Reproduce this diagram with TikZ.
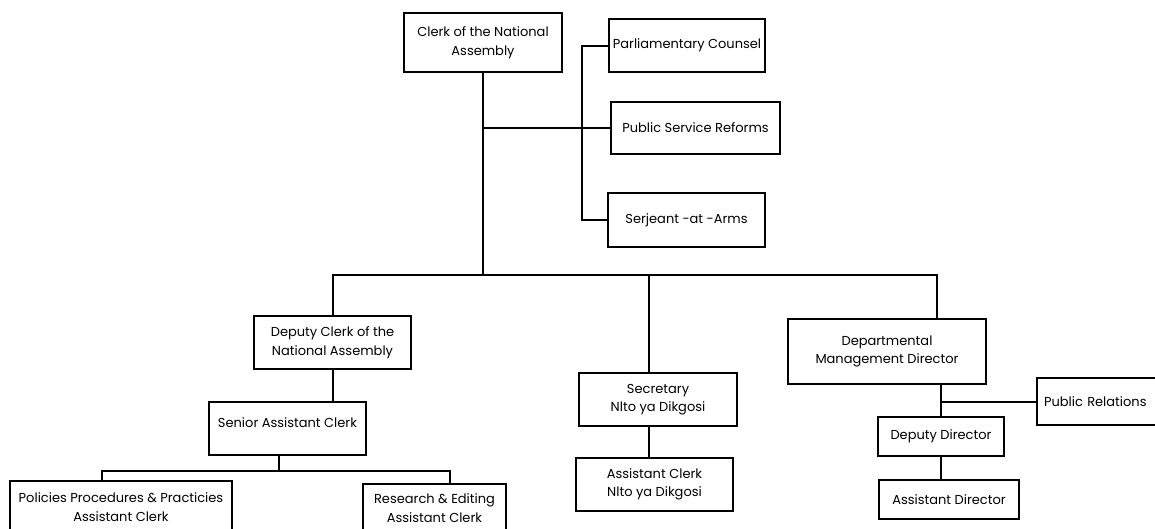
\documentclass[tikz,border=0pt]{standalone}
\usepackage{fontspec}
\setmainfont{Poppins}
\usepackage{tikz}

\tikzset{
  post/.style={draw, line width=2pt, align=center, font=\fontsize{13}{18.5}\selectfont,
               inner sep=3pt},
  link/.style={line width=2pt}
}

\begin{document}
\begin{tikzpicture}[x=1pt, y=-1pt]

  \useasboundingbox (0,0) rectangle (1155,528);
  \clip (0,0) rectangle (1155,528);

  % top of the chart
  \node[post, minimum width=158, minimum height=59] (clerk) at (483,42.5) {Clerk of the National\\Assembly};
  \node[post, minimum width=156, minimum height=53] (parl)  at (687,45.5) {Parliamentary Counsel};
  \node[post, minimum width=169, minimum height=52] (psr)   at (695.5,128) {Public Service Reforms};
  \node[post, minimum width=157, minimum height=54] (serj)  at (686.5,220) {Serjeant -at -Arms};

  % second row
  \node[post, minimum width=157, minimum height=53] (dep) at (332.5,342.5) {Deputy Clerk of the\\National Assembly};
  \node[post, minimum width=158, minimum height=53] (sec) at (658,399.5) {Secretary\\Nlto ya Dikgosi};
  \node[post, minimum width=198, minimum height=65] (dmd) at (887,351.5) {Departmental\\Management Director};

  % lower rows
  \node[post, minimum width=157, minimum height=53, text depth=12pt] (senior) at (287.5,428.5) {Senior Assistant Clerk};
  \node[post, minimum width=222, minimum height=52] (pol) at (121,507) {Policies Procedures \& Practicies\\Assistant Clerk};
  \node[post, minimum width=143, minimum height=48] (res) at (434.5,508) {Research \& Editing\\Assistant Clerk};
  \node[post, minimum width=157, minimum height=53] (acn) at (654.5,484.5) {Assistant Clerk\\Nlto ya Dikgosi};
  \node[post, minimum height=47, text width=140, inner xsep=7pt, anchor=west, align=left] (pr) at (1036,401.5) {Public Relations};
  \node[post, minimum width=126, minimum height=39] (dd) at (941,436.5) {Deputy Director};
  \node[post, minimum width=140, minimum height=39] (ad) at (949,499.5) {Assistant Director};

  % bus under the clerk
  \coordinate (bus)  at (483,275);
  \coordinate (busR) at (937,275);
  \coordinate (sub)  at (279,471);

  \draw[link] (clerk.south) -- (bus);
  \draw[link] (clerk |- psr.west) -- (psr.west);
  \draw[link] (parl.west) -- ++(-26,0) |- (serj.west);
  \draw[link] (dep.north) |- (busR) -- (busR |- dmd.north);
  \draw[link] ([xshift=-9pt]sec.north) -- ([xshift=-9pt]sec.north |- bus);
  \draw[link] ([xshift=-9pt]sec.south) -- ([xshift=-9pt]sec.south |- acn.north);
  \draw[link] (dep.south) -- (dep.south |- senior.north);
  \draw[link] (sub) -- (sub |- senior.south);
  \draw[link] ([xshift=-19pt]pol.north) |- (sub) -| ([xshift=15.5pt]res.north);
  \draw[link] (dd.north) -- (dd.north |- dmd.south);
  \draw[link] (dd.north |- pr.west) -- (pr.west);
  \draw[link] (dd.south) -- (ad.north -| dd.south);

\end{tikzpicture}
\end{document}
